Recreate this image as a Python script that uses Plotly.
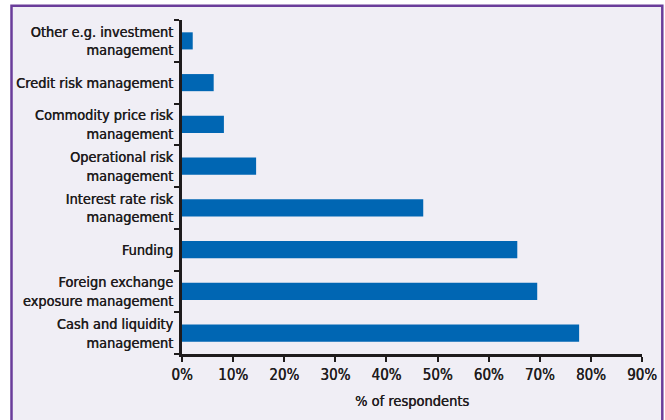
import plotly.graph_objects as go

# Survey categories (bottom to top) and share of respondents in percent
categories = [
    "Cash and liquidity<br>management",
    "Foreign exchange<br>exposure management",
    "Funding",
    "Interest rate risk<br>management",
    "Operational risk<br>management",
    "Commodity price risk<br>management",
    "Credit risk management",
    "Other e.g. investment<br>management",
]
share_pct = [77.7, 69.5, 65.6, 47.2, 14.5, 8.2, 6.2, 2.1]
x_ticks = [0, 10, 20, 30, 40, 50, 60, 70, 80, 90]
x_tick_labels = [f"{v}%" for v in x_ticks]

FONT = "DejaVu Sans Condensed, Liberation Sans Narrow, sans-serif"
INK = "#1e1b1c"
# a faint horizontal shadow gives the condensed face a medium weight
HEAVY = f"0.4px 0 0 {INK}"

W, H = 665, 420
ML, MR, MT, MB = 182, 23, 20, 66
pw, ph = W - ML - MR, H - MT - MB


def px_to_paper_x(px):
    return (px - ML) / pw


def px_to_paper_y(py):
    return (H - MB - py) / ph


fig = go.Figure(
    go.Bar(
        x=share_pct,
        y=categories,
        orientation="h",
        marker=dict(color="#0066b3", line=dict(width=0)),
        hoverinfo="x+y",
    )
)

fig.update_layout(
    width=W,
    height=H,
    margin=dict(l=ML, r=MR, t=MT, b=MB, autoexpand=False),
    paper_bgcolor="white",
    plot_bgcolor="rgba(0,0,0,0)",
    bargap=0.59,
    showlegend=False,
    font=dict(family=FONT, size=14, color=INK),
    shapes=[
        dict(
            type="rect",
            xref="paper",
            yref="paper",
            x0=px_to_paper_x(11.5),
            x1=px_to_paper_x(662.3),
            y0=px_to_paper_y(440),
            y1=px_to_paper_y(5.7),
            fillcolor="#f0eef5",
            line=dict(color="#6a3d9a", width=2.5),
            layer="below",
        )
    ],
)

fig.update_xaxes(
    range=[0, 90],
    tickmode="array",
    tickvals=x_ticks,
    ticktext=x_tick_labels,
    ticks="outside",
    ticklen=5,
    tickwidth=2,
    tickcolor=INK,
    showline=True,
    linewidth=3,
    linecolor=INK,
    showgrid=False,
    zeroline=False,
    automargin=False,
    tickfont=dict(size=15, color=INK, shadow=HEAVY),
    title=dict(text="% of respondents",
               font=dict(size=14.5, color=INK, shadow=HEAVY), standoff=13),
)

fig.update_yaxes(
    categoryorder="array",
    categoryarray=categories,
    tickson="boundaries",
    ticks="outside",
    ticklen=5,
    tickwidth=2,
    tickcolor=INK,
    ticklabelstandoff=3,
    showline=True,
    linewidth=3,
    linecolor=INK,
    showgrid=False,
    zeroline=False,
    automargin=False,
    tickfont=dict(size=14.4, color=INK, shadow=HEAVY),
)

fig.write_html("out.html")
